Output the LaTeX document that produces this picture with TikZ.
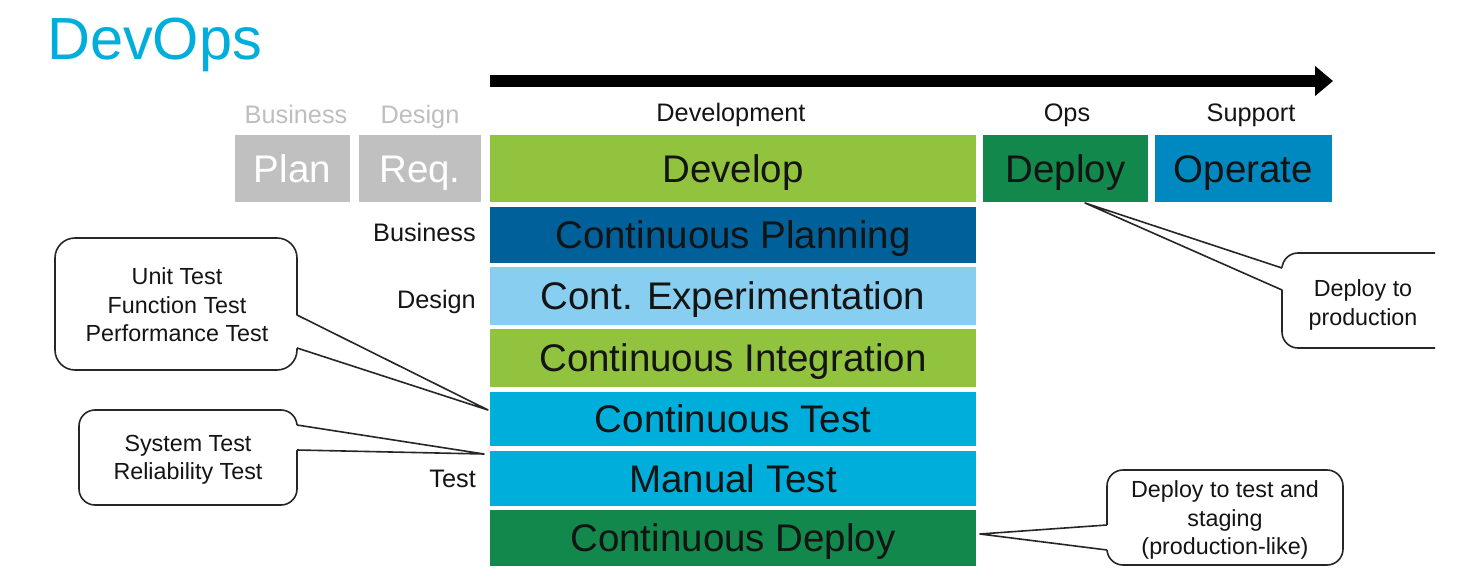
\documentclass[tikz,border=0pt]{standalone}
\usepackage{fontspec}
\setmainfont{Liberation Sans}
\usetikzlibrary{arrows.meta}
\definecolor{titlecyan}{RGB}{0,174,219}
\definecolor{boxgray}{RGB}{192,192,192}
\definecolor{labgray}{RGB}{190,190,190}
\definecolor{lgreen}{RGB}{146,195,62}
\definecolor{dgreen}{RGB}{19,136,76}
\definecolor{opblue}{RGB}{0,137,193}
\definecolor{dblue}{RGB}{0,96,153}
\definecolor{lblue}{RGB}{135,206,240}
\definecolor{rcyan}{RGB}{0,174,219}
\definecolor{txt}{RGB}{20,20,20}
\tikzset{
  blk/.style={inner sep=0pt, text height=27.6pt, text depth=0pt, text=txt,
    font=\fontsize{38.5}{40}\selectfont},
  small/.style={inner sep=0pt, text height=18.2pt, text depth=0pt, text=txt,
    font=\fontsize{25.3}{28}\selectfont},
  cotext/.style={inner sep=0pt, align=center, text=txt,
    font=\fontsize{23.3}{28.5}\selectfont},
  coline/.style={line width=1.6pt, draw=black!85},
}
\begin{document}
\begin{tikzpicture}[x=1pt,y=-1pt]
\useasboundingbox (0,0) rectangle (1466,588);
% title
\node[inner sep=0pt, anchor=base west, text=titlecyan, font=\fontsize{59.5}{62}\selectfont] (title) at (47,60) {DevOps};
% arrow
\coordinate (arrS) at (490,81);
\coordinate (arrE) at (1333,81);
\draw[line width=12pt, -{Triangle[length=18pt,width=29pt]}] (arrS) -- (arrE);
% top labels
\node[small, text=labgray] (lbus) at (296,114) {Business};
\node[small, text=labgray] (ldes) at (420,114) {Design};
\node[small] (ldev) at (731,112) {Development};
\node[small] (lops) at (1067,112) {Ops};
\node[small] (lsup) at (1251,112) {Support};
% top row
\node[blk, fill=boxgray, text=white, minimum width=115, minimum height=67] (plan) at (292.5,168.5) {Plan};
\node[blk, fill=boxgray, text=white, minimum width=122, minimum height=67] (req) at (420,168.5) {Req.};
\node[blk, fill=lgreen, minimum width=486, minimum height=67] (develop) at (733,168.5) {Develop};
\node[blk, fill=dgreen, minimum width=165, minimum height=67] (deploy) at (1065.5,168.5) {Deploy};
\node[blk, fill=opblue, minimum width=177, minimum height=67] (operate) at (1243.5,168.5) {Operate};
% rows
\node[blk, fill=dblue, minimum width=486, minimum height=56] (cplan) at (733,235) {Continuous Planning};
\node[blk, fill=lblue, minimum width=486, minimum height=58] (cexp) at (733,296) {Cont. Experimentation};
\node[blk, fill=lgreen, minimum width=486, minimum height=58] (cint) at (733,358) {Continuous Integration};
\node[blk, fill=rcyan, minimum width=486, minimum height=54] (ctest) at (733,419) {Continuous Test};
\node[blk, fill=rcyan, minimum width=486, minimum height=55] (mtest) at (733,478.5) {Manual Test};
\node[blk, fill=dgreen, minimum width=486, minimum height=56] (cdep) at (733,538) {Continuous Deploy};
% side labels
\node[small, anchor=east] (sbus) at (476,232) {Business};
\node[small, anchor=east] (sdes) at (476,299) {Design};
\node[small, anchor=east] (stest) at (476,478) {Test};
% callout 1
\coordinate (t1) at (488,410);
\draw[coline, fill=white, rounded corners=20pt] (55,238) rectangle (297,370);
\fill[white] (295.5,315) -- (t1) -- (295.5,348) -- cycle;
\draw[coline, line join=round] (297,315) -- (t1) -- (297,348);
\node[cotext] (c1) at (177,305) {Unit Test\\Function Test\\Performance Test};
% callout 2
\coordinate (t2) at (484,454);
\draw[coline, fill=white, rounded corners=16pt] (79,410) rectangle (297,505);
\fill[white] (295.5,425) -- (t2) -- (295.5,450) -- cycle;
\draw[coline, line join=round] (297,425) -- (t2) -- (297,450);
\node[cotext] (c2) at (188,460) {System Test\\Reliability Test};
% callout 3 (clipped at right)
\coordinate (t3) at (1085,203);
\begin{scope}
\clip (1270,240) rectangle (1435,360);
\draw[coline, fill=white, rounded corners=16pt] (1282,253) rectangle (1470,348);
\end{scope}
\fill[white] (1283.5,268) -- (t3) -- (1283.5,290) -- cycle;
\draw[coline, line join=round] (1282,268) -- (t3) -- (1282,290);
\node[cotext] (c3) at (1363,305) {Deploy to\\production};
% callout 4
\coordinate (t4) at (980,534);
\draw[coline, fill=white, rounded corners=16pt] (1107,470) rectangle (1343,565);
\fill[white] (1108.5,525) -- (t4) -- (1108.5,550) -- cycle;
\draw[coline, line join=round] (1107,525) -- (t4) -- (1107,550);
\node[cotext] (c4) at (1225,520) {Deploy to test and\\staging\\(production-like)};
\end{tikzpicture}
\end{document}
